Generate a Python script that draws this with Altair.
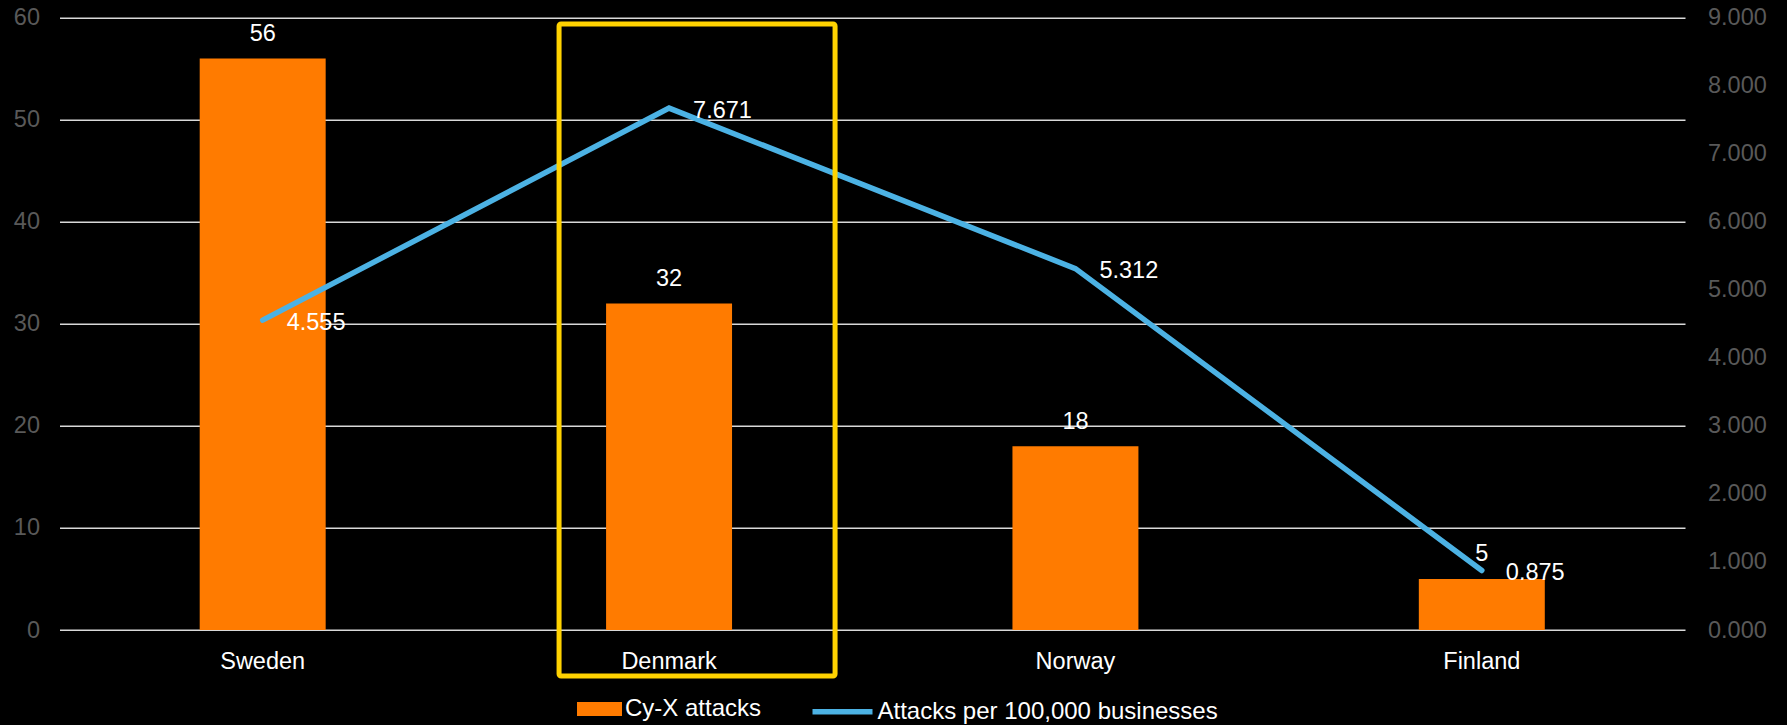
import altair as alt
import pandas as pd

# Chart data
countries = ["Sweden", "Denmark", "Norway", "Finland"]
cyx_attacks = [56, 32, 18, 5]
attacks_per_100k = [4.555, 7.671, 5.312, 0.875]
highlighted = ["Denmark"]

df = pd.DataFrame({
    "country": countries,
    "attacks": cyx_attacks,
    "rate": attacks_per_100k,
})
df_box = pd.DataFrame({"country": highlighted})

FONT = "Liberation Sans"
ORANGE = "#ff7b00"
BLUE = "#4cb2e4"
YELLOW = "#ffd200"
GREY = "#595959"

x_enc = alt.X(
    "country:N",
    sort=countries,
    scale=alt.Scale(domain=countries, paddingInner=0.69, paddingOuter=0.345),
    axis=alt.Axis(title=None, labelAngle=0, labelColor="white", labelFont=FONT,
                  labelFontSize=23.5, labelPadding=19, ticks=False, domain=False,
                  grid=False),
)

# Left axis: attack counts as bars
y_left = alt.Scale(domain=[0, 60], nice=False)
left_axis = alt.Axis(title=None, orient="left", values=list(range(0, 61, 10)),
                     format="d", labelColor=GREY, labelFont=FONT, labelFontSize=23.5,
                     labelPadding=20, ticks=False, domain=False, grid=True,
                     gridColor="#d9d9d9", gridWidth=1.5)

bars = alt.Chart(df).mark_bar().encode(
    x=x_enc,
    y=alt.Y("attacks:Q", scale=y_left, axis=left_axis),
    fill=alt.Fill("legend:N",
                  scale=alt.Scale(domain=["Cy-X attacks"], range=[ORANGE]),
                  legend=alt.Legend(title=None, orient="none", legendX=517.5, legendY=668.8,
                                    symbolType="M-1,-0.31H1V0.31H-1Z", symbolSize=2025,
                                    symbolStrokeWidth=0, labelColor="white", labelFont=FONT,
                                    labelFontSize=24, labelOffset=3, labelLimit=0, padding=0)),
).transform_calculate(legend="'Cy-X attacks'")

bar_labels = alt.Chart(df).mark_text(
    baseline="alphabetic", align="center", dy=-17.5, color="white", font=FONT, fontSize=23.5
).encode(
    x=alt.X("country:N", sort=countries),
    y=alt.Y("attacks:Q", scale=y_left, axis=left_axis),
    text=alt.Text("attacks:Q", format="d"),
)

left = alt.layer(bars, bar_labels)

# Right axis: attacks per 100,000 businesses as a line
y_right = alt.Scale(domain=[0, 9], nice=False)
right_axis = alt.Axis(title=None, orient="right", values=list(range(0, 10)),
                      format=".3f", labelColor=GREY, labelFont=FONT, labelFontSize=23.5,
                      labelPadding=22.5, ticks=False, domain=False, grid=False)

line = alt.Chart(df).mark_line(strokeWidth=5.5, strokeCap="round").encode(
    x=alt.X("country:N", sort=countries),
    y=alt.Y("rate:Q", scale=y_right, axis=right_axis),
    stroke=alt.Stroke("legend:N",
                      scale=alt.Scale(domain=["Attacks per 100,000 businesses"], range=[BLUE]),
                      legend=alt.Legend(title=None, orient="none", legendX=750, legendY=661,
                                        symbolType="stroke", symbolSize=3600,
                                        symbolStrokeWidth=5.5, labelColor="white", labelFont=FONT,
                                        labelFontSize=24, labelOffset=2, labelLimit=0,
                                        padding=0)),
).transform_calculate(legend="'Attacks per 100,000 businesses'")

line_labels = alt.Chart(df).mark_text(
    baseline="alphabetic", align="left", dx=24, dy=9.5, color="white", font=FONT, fontSize=23.5
).encode(
    x=alt.X("country:N", sort=countries),
    y=alt.Y("rate:Q", scale=y_right, axis=right_axis),
    text=alt.Text("rate:Q", format=".3f"),
)

right = alt.layer(line, line_labels)

# Highlight frame around the Denmark column
frame = alt.Chart(df_box).mark_bar(
    filled=False, color=YELLOW, strokeWidth=5, cornerRadius=2, width=276, xOffset=28
).encode(
    x=alt.X("country:N", sort=countries),
    y=alt.value(6.3),
    y2=alt.value(658.3),
)

chart = alt.layer(left, right, frame).resolve_scale(
    y="independent", fill="independent", stroke="independent"
).properties(
    width=1625.5,
    height=612.3,
    background="black",
    autosize=alt.AutoSizeParams(type="none"),
    padding={"left": 59.5, "top": 17.7, "right": 102, "bottom": 95},
).configure_view(stroke=None)

chart.save("out.html", embed_options={"renderer": "svg", "actions": False})
